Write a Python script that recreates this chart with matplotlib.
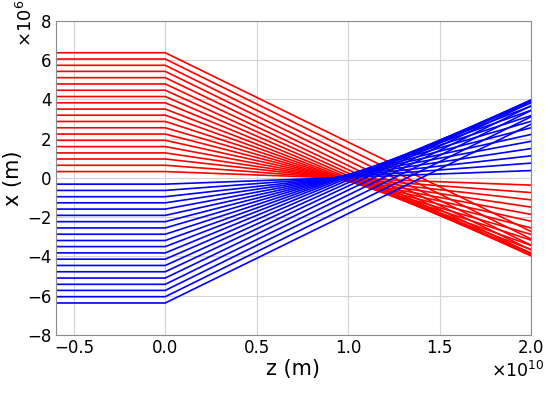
import matplotlib.pyplot as plt

# ray heights at the lens plane (units of 1e6 m)
heights = [0.32, 0.64, 0.96, 1.27, 1.59, 1.91, 2.23, 2.55, 2.87, 3.19,
           3.50, 3.82, 4.14, 4.46, 4.78, 5.10, 5.42, 5.73, 6.05, 6.37]
# where each upper ray lands at z = 2e10 m (units of 1e6 m)
x_end = [-0.37, -0.75, -1.12, -1.49, -1.86, -2.21, -2.55, -2.88, -3.17, -3.44,
         -3.65, -3.82, -3.93, -3.97, -3.95, -3.85, -3.67, -3.43, -3.11, -2.73]
# z positions of the path vertices (units of 1e10 m)
z_path = [-0.6, 0.0, 2.0]

fig = plt.figure(figsize=(5.5, 3.93), dpi=100)
ax = fig.add_axes([0.101, 0.1476, 0.8645, 0.7997])

for h, e in zip(heights, x_end):
    ax.plot(z_path, [h, h, e], color='#ff0000', lw=1.2)
for h, e in zip(heights, x_end):
    ax.plot(z_path, [-h, -h, -e], color='#0000ff', lw=1.2)

ax.set_xlim(-0.6, 2.0)
ax.set_ylim(-8, 8)
ax.set_xticks([-0.5, 0.0, 0.5, 1.0, 1.5, 2.0])
ax.set_yticks([-8, -6, -4, -2, 0, 2, 4, 6, 8])
ax.grid(True, color='#d3d3d3', lw=0.8)
ax.set_axisbelow(True)
for s in ax.spines.values():
    s.set_color('#8c8c8c')
ax.tick_params(length=0, pad=3, labelsize=12)

ax.set_xlabel('z (m)', fontsize=15, labelpad=1)
ax.set_ylabel('x (m)', fontsize=15, labelpad=3)
fig.text(0.99, 0.055, r'$\times10^{10}$', fontsize=12.5, ha='right', va='center')
fig.text(0.047, 1.0, r'$\times10^{6}$', fontsize=13, rotation=90, ha='center', va='top')

fig.savefig('out.png', dpi=100)
